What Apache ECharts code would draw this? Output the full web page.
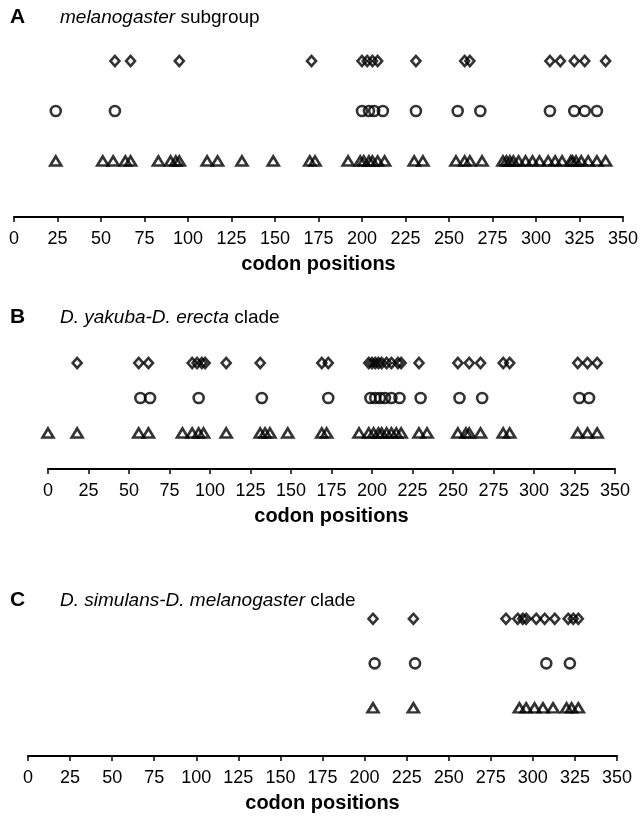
<!DOCTYPE html>
<html>
<head>
<meta charset="utf-8">
<script src="https://cdn.jsdelivr.net/npm/echarts@6/dist/echarts.min.js"></script>
<style>
  html, body { margin: 0; padding: 0; background: #fff; }
  #chart { width: 643px; height: 822px; }
</style>
</head>
<body>
<div id="chart"></div>
<script>
// codon positions
var xTicks = [0, 25, 50, 75, 100, 125, 150, 175, 200, 225, 250, 275, 300, 325, 350];

// A: melanogaster subgroup
var aDiamond = [58, 67, 95, 171, 200, 203, 206, 209, 231, 259, 262, 308, 314, 322, 328, 340];
var aCircle = [24, 58, 200, 204, 207, 212, 231, 255, 268, 308, 322, 328, 335];
var aTriangle = [24, 51, 57, 64, 67, 83, 90, 93, 95, 111, 117, 131, 149, 170, 173, 192, 199, 201,
  204, 206, 209, 213, 230, 235, 254, 259, 262, 269, 281, 283, 285, 287, 290, 294, 298, 302, 307,
  311, 315, 320, 321, 323, 326, 330, 335, 340];

// B: D. yakuba-D. erecta clade
var bDiamond = [18, 56, 62, 89, 92, 95, 97, 110, 131, 169, 173, 198, 200, 202, 204, 206, 209, 212,
  216, 218, 229, 253, 260, 267, 281, 285, 327, 333, 339];
var bCircle = [57, 63, 93, 132, 173, 199, 202, 205, 208, 212, 217, 230, 254, 268, 328, 334];
var bTriangle = [0, 18, 56, 62, 83, 89, 93, 96, 110, 131, 134, 137, 148, 169, 172, 192, 198, 201,
  204, 206, 209, 212, 215, 218, 229, 234, 253, 258, 260, 267, 281, 285, 327, 333, 339];

// C: D. simulans-D. melanogaster clade
var cDiamond = [205, 229, 284, 291, 294, 296, 302, 307, 313, 321, 324, 327];
var cCircle = [206, 230, 308, 322];
var cTriangle = [205, 229, 292, 296, 301, 306, 312, 320, 323, 327];

var panels = [
  { letter: 'A', sub: '{i|melanogaster} subgroup', titleTop: 2,
    grid: { left: 14, right: 20, top: 41, height: 176 }, yMin: -0.12,
    rows: [aTriangle, aCircle, aDiamond] },
  { letter: 'B', sub: '{i|D. yakuba-D. erecta} clade', titleTop: 302,
    grid: { left: 48, right: 28, top: 349, height: 120 }, yMin: -0.03,
    rows: [bTriangle, bCircle, bDiamond] },
  { letter: 'C', sub: '{i|D. simulans-D. melanogaster} clade', titleTop: 585,
    grid: { left: 28, right: 26, top: 601, height: 155 }, yMin: -0.08,
    rows: [cTriangle, cCircle, cDiamond] }
];

var symbols = [
  { symbol: 'triangle', size: [11, 9] },
  { symbol: 'circle', size: 10 },
  { symbol: 'diamond', size: [9, 10] }
];

var titles = [], grids = [], xAxes = [], yAxes = [], series = [];

panels.forEach(function (p, i) {
  titles.push({
    text: p.letter, left: 5, top: p.titleTop,
    textStyle: { fontFamily: 'Liberation Sans', fontWeight: 'bold', fontSize: 21, color: '#000' }
  });
  titles.push({
    text: p.sub, left: 55, top: p.titleTop + 1,
    textStyle: {
      fontFamily: 'Liberation Sans', fontWeight: 'normal', fontSize: 19, color: '#000',
      rich: { i: { fontFamily: 'Liberation Sans', fontStyle: 'italic', fontSize: 19, color: '#000' } }
    }
  });
  grids.push(p.grid);
  xAxes.push({
    gridIndex: i, type: 'value', min: xTicks[0], max: xTicks[xTicks.length - 1],
    interval: xTicks[1] - xTicks[0],
    name: 'codon positions', nameLocation: 'middle', nameGap: 37,
    nameTextStyle: { fontFamily: 'Liberation Sans', fontWeight: 'bold', fontSize: 20, color: '#000' },
    axisLine: { show: true, onZero: false, lineStyle: { color: '#000', width: 2 } },
    axisTick: { show: true, length: 5, lineStyle: { color: '#000', width: 1.5 } },
    axisLabel: { fontFamily: 'Liberation Sans', fontSize: 18, color: '#000', margin: 13 },
    splitLine: { show: false }
  });
  yAxes.push({
    gridIndex: i, type: 'value', min: p.yMin, max: 3.4, show: false,
    splitLine: { show: false }
  });
  p.rows.forEach(function (vals, r) {
    series.push({
      type: 'scatter',
      xAxisIndex: i, yAxisIndex: i,
      symbol: symbols[r].symbol,
      symbolSize: symbols[r].size,
      clip: false,
      itemStyle: { color: 'rgba(0,0,0,0)', borderColor: '#000', borderWidth: 2.6 },
      emphasis: { disabled: true },
      data: vals.map(function (v) { return [v, r + 1]; })
    });
  });
});

var myChart = echarts.init(document.getElementById('chart'));
myChart.setOption({
  animation: false,
  backgroundColor: '#fff',
  title: titles,
  grid: grids,
  xAxis: xAxes,
  yAxis: yAxes,
  series: series
});
</script>
</body>
</html>
